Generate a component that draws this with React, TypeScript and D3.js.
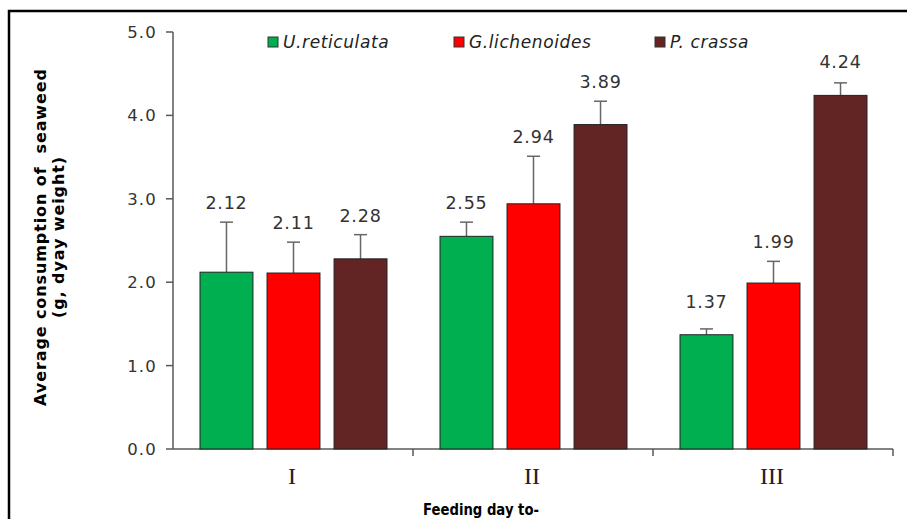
import React, { useMemo } from 'react';
import * as d3 from 'd3';

const days = ['I', 'II', 'III'];
const species = ['U.reticulata', 'G.lichenoides', 'P. crassa'];
const colors = ['#00B050', '#FF0000', '#632523'];
// mean consumption per species, one value per feeding day
const uReticulata = [2.12, 2.55, 1.37];
const gLichenoides = [2.11, 2.94, 1.99];
const pCrassa = [2.28, 3.89, 4.24];
// upper error (SD) per species
const uReticulataErr = [0.6, 0.17, 0.07];
const gLichenoidesErr = [0.37, 0.57, 0.26];
const pCrassaErr = [0.29, 0.28, 0.15];
const yTicks = [0, 1, 2, 3, 4, 5];

const seriesValues = [uReticulata, gLichenoides, pCrassa];
const seriesErrors = [uReticulataErr, gLichenoidesErr, pCrassaErr];

const W = 907;
const H = 519;
const margin = { top: 32, right: 14, bottom: 70, left: 173 };

const App = () => {
  const { x, xInner, y } = useMemo(() => {
    const xScale = d3.scaleBand()
      .domain(days)
      .range([margin.left, W - margin.right])
      .padding(0);
    const xIn = d3.scaleBand()
      .domain(species)
      .range([27, xScale.bandwidth() - 26])
      .paddingInner(0.21)
      .paddingOuter(0);
    const yScale = d3.scaleLinear()
      .domain([0, 5])
      .range([H - margin.bottom, margin.top]);
    return { x: xScale, xInner: xIn, y: yScale };
  }, []);

  const axisColor = '#595959';
  const font = 'Verdana, "DejaVu Sans", sans-serif';
  const y0 = y(0);

  const legendX = [268, 454, 655];

  return (
    <svg width={W} height={H} style={{ position: 'absolute', left: 0, top: 0, background: '#fff' }}>
      {/* outer frame */}
      <rect x={9} y={11} width={W + 10} height={H + 10} fill="none" stroke="#000" strokeWidth={2.5} />

      {/* y axis */}
      <line x1={margin.left} x2={margin.left} y1={y(5)} y2={y0} stroke={axisColor} strokeWidth={1.5} />
      {yTicks.map(t => (
        <g key={t}>
          <line x1={margin.left - 7} x2={margin.left} y1={y(t)} y2={y(t)} stroke={axisColor} strokeWidth={1.5} />
          <text x={157} y={y(t)} dy="0.36em" textAnchor="end" fontFamily={font} fontSize={16.5}
            fill="#333" letterSpacing={1.2}>{t.toFixed(1)}</text>
        </g>
      ))}

      {/* x axis */}
      <line x1={margin.left} x2={W - margin.right} y1={y0} y2={y0} stroke={axisColor} strokeWidth={1.5} />
      {days.map(d => (
        <g key={d}>
          <line x1={(x(d) as number) + x.bandwidth()} x2={(x(d) as number) + x.bandwidth()} y1={y0} y2={y0 + 7}
            stroke={axisColor} strokeWidth={1.5} />
          <text x={(x(d) as number) + x.bandwidth() / 2 - 1} y={484} textAnchor="middle"
            fontFamily='"Liberation Serif", "Times New Roman", serif' fontSize={24} fill="#222">{d}</text>
        </g>
      ))}

      {/* bars, error bars, labels */}
      {days.map((d, i) => (
        <g key={d} transform={`translate(${x(d)},0)`}>
          {species.map((s, j) => {
            const v = seriesValues[j][i];
            const e = seriesErrors[j][i];
            const bx = xInner(s) as number;
            const bw = xInner.bandwidth();
            const cx = bx + bw / 2;
            const top = y(v);
            const cap = y(v + e);
            const labelY = Math.min(cap - 13, top - 27);
            return (
              <g key={s}>
                <line x1={cx} x2={cx} y1={top} y2={cap} stroke="#666" strokeWidth={1.5} />
                <line x1={cx - 6.5} x2={cx + 6.5} y1={cap} y2={cap} stroke="#666" strokeWidth={1.5} />
                <rect x={bx} y={top} width={bw} height={y0 - top} fill={colors[j]} stroke="#222" strokeWidth={1} />
                <text x={cx} y={labelY} textAnchor="middle" fontFamily={font} fontSize={17.5}
                  fill="#333" letterSpacing={0.8}>{v.toFixed(2)}</text>
              </g>
            );
          })}
        </g>
      ))}

      {/* legend */}
      {species.map((s, j) => (
        <g key={s}>
          <rect x={legendX[j]} y={37} width={10} height={10} fill={colors[j]} stroke="#333" strokeWidth={1} />
          <text x={legendX[j] + 15} y={47.5} fontFamily={font} fontStyle="italic" fontSize={17}
            letterSpacing={0.6} fill="#222">{s}</text>
        </g>
      ))}

      {/* axis titles */}
      <g transform="translate(46,237) rotate(-90)">
        <text x={0} y={0} textAnchor="middle" fontFamily={font} fontWeight="bold" fontSize={16} fill="#000"
          letterSpacing={0.9} style={{ whiteSpace: 'pre' }}>Average consumption of  seaweed</text>
        <text x={0} y={18} textAnchor="middle" fontFamily={font} fontWeight="bold" fontSize={16} fill="#000"
          letterSpacing={0.9}>(g, dyay weight)</text>
      </g>
      <text x={481} y={515} textAnchor="middle" fontFamily={font} fontWeight="bold" fontSize={16.5}
        textLength={116} lengthAdjust="spacingAndGlyphs" fill="#000">Feeding day to-</text>
    </svg>
  );
};

export default App;
